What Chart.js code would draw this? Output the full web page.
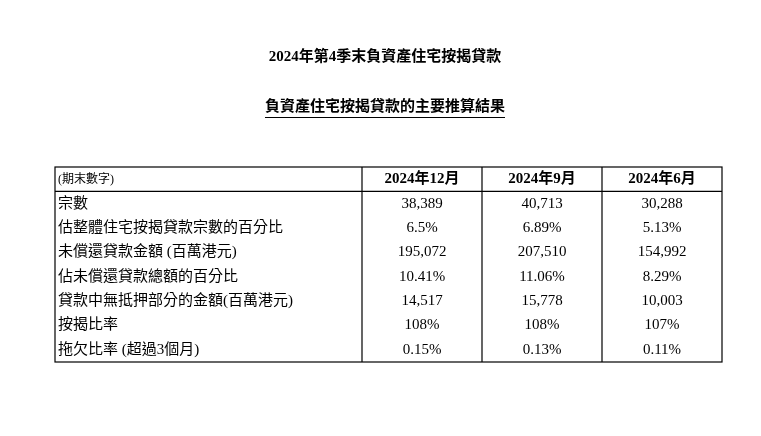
<!DOCTYPE html>
<html><head><meta charset="utf-8">
<script src="https://cdn.jsdelivr.net/npm/chart.js@4"></script>
<style>html,body{margin:0;background:#fff}canvas{display:block}</style>
</head><body>
<canvas id="c" width="761" height="436"></canvas>
<script>
const titles = ['2024年第4季末負資產住宅按揭貸款', '負資產住宅按揭貸款的主要推算結果'];
const headers = ['(期末數字)', '2024年12月', '2024年9月', '2024年6月'];
const rowLabels = ['宗數', '估整體住宅按揭貸款宗數的百分比', '未償還貸款金額 (百萬港元)', '佔未償還貸款總額的百分比',
  '貸款中無抵押部分的金額(百萬港元)', '按揭比率', '拖欠比率 (超過3個月)'];
const dec2024 = ['38,389', '6.5%', '195,072', '10.41%', '14,517', '108%', '0.15%'];
const sep2024 = ['40,713', '6.89%', '207,510', '11.06%', '15,778', '108%', '0.13%'];
const jun2024 = ['30,288', '5.13%', '154,992', '8.29%', '10,003', '107%', '0.11%'];

const FONT = '"Liberation Serif", "Noto Sans CJK TC", serif';
const colEdges = [55, 362, 482, 602, 722];

const tablePlugin = {
  id: 'table',
  afterDraw(chart) {
    const ctx = chart.ctx, y = chart.scales.y, area = chart.chartArea;
    ctx.save();
    ctx.fillStyle = '#000'; ctx.strokeStyle = '#000';
    ctx.textBaseline = 'middle';
    // titles
    ctx.font = 'bold 15px ' + FONT; ctx.textAlign = 'center';
    ctx.fillText(titles[0], 385, 57);
    ctx.fillText(titles[1], 385, 107);
    const tw = ctx.measureText(titles[1]).width;
    ctx.lineWidth = 1;
    ctx.beginPath(); ctx.moveTo(385 - tw / 2, 117.5); ctx.lineTo(385 + tw / 2, 117.5); ctx.stroke();
    // frame
    const top = area.top, bottom = area.bottom;
    const headBottom = (y.getPixelForValue(0) + y.getPixelForValue(1)) / 2;
    ctx.lineWidth = 1.2;
    ctx.strokeRect(colEdges[0], top, colEdges[4] - colEdges[0], bottom - top);
    ctx.beginPath();
    for (let i = 1; i < 4; i++) { ctx.moveTo(colEdges[i], top); ctx.lineTo(colEdges[i], bottom); }
    ctx.moveTo(colEdges[0], headBottom); ctx.lineTo(colEdges[4], headBottom);
    ctx.stroke();
    // header
    const hy = y.getPixelForValue(0);
    ctx.font = '12px ' + FONT; ctx.textAlign = 'left';
    ctx.fillText(headers[0], colEdges[0] + 3, hy + 1);
    ctx.font = 'bold 15px ' + FONT; ctx.textAlign = 'center';
    for (let i = 1; i < 4; i++) ctx.fillText(headers[i], (colEdges[i] + colEdges[i + 1]) / 2, hy);
    // rows
    const cols = [dec2024, sep2024, jun2024];
    ctx.font = '15px ' + FONT;
    rowLabels.forEach((lab, r) => {
      const py = y.getPixelForValue(r + 1);
      ctx.textAlign = 'left';
      ctx.fillText(lab, colEdges[0] + 3, py);
      ctx.textAlign = 'center';
      cols.forEach((c, i) => ctx.fillText(c[r], (colEdges[i + 1] + colEdges[i + 2]) / 2, py));
    });
    ctx.restore();
  }
};

new Chart(document.getElementById('c'), {
  type: 'bar',
  data: { labels: ['h'].concat(rowLabels), datasets: [] },
  options: {
    responsive: false, animation: false,
    layout: { padding: { top: 167, bottom: 74, left: 55, right: 39 } },
    plugins: { legend: { display: false }, tooltip: { enabled: false } },
    scales: {
      x: { display: false },
      y: { type: 'category', labels: ['h'].concat(rowLabels), display: false, offset: true }
    }
  },
  plugins: [tablePlugin]
});
</script>
</body></html>
